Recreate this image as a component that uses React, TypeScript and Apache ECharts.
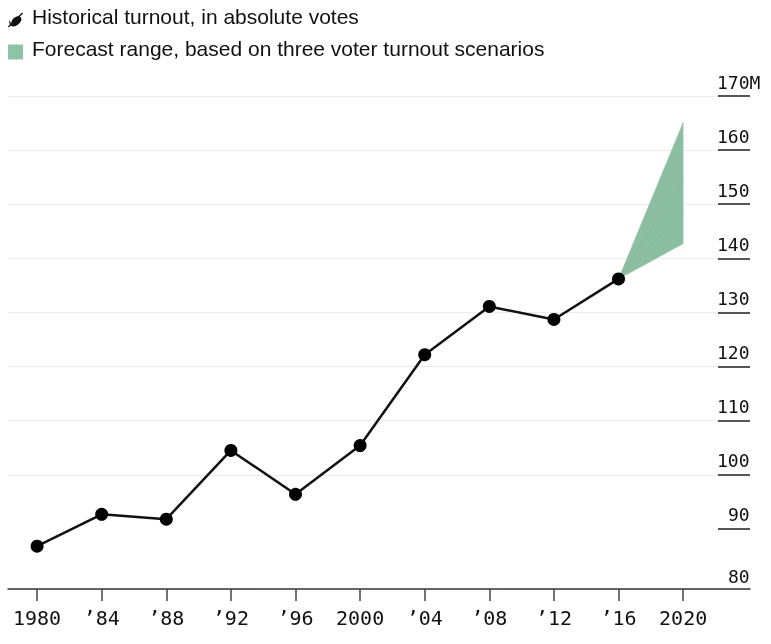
import React, { useEffect, useRef } from "react";
import * as echarts from "echarts";

const years = [1980, 1984, 1988, 1992, 1996, 2000, 2004, 2008, 2012, 2016];
const turnout = [86.8, 92.7, 91.8, 104.5, 96.4, 105.4, 122.2, 131.1, 128.7, 136.2];
const forecastYears = [2016, 2020];
// boundaries of the forecast fan at 2020 (low .. high)
const forecastBounds = [142.7, 148.6, 154.5, 165.1];
const xTickYears = [1980, 1984, 1988, 1992, 1996, 2000, 2004, 2008, 2012, 2016, 2020];
const yTicks = [80, 90, 100, 110, 120, 130, 140, 150, 160, 170];

const HIST_NAME = "Historical turnout, in absolute votes";
const FC_NAME = "Forecast range, based on three voter turnout scenarios";
const GREEN = "#8cbfa1";
const MONO = "DejaVu Sans Mono, monospace";
const SANS = "Liberation Sans, Arial, sans-serif";

export default function App() {
  const ref = useRef<HTMLDivElement>(null);
  useEffect(() => {
    if (!ref.current) return;
    const chart = echarts.init(ref.current, null, { renderer: "svg" });
    const start = turnout[turnout.length - 1];
    const bands = forecastBounds.slice(1).map((hi, i) => [forecastBounds[i], hi]);
    chart.setOption({
      animation: false,
      grid: { left: 8, right: 21, top: 96, bottom: 61, containLabel: false },
      legend: {
        orient: "vertical",
        left: 8,
        top: 6,
        padding: 0,
        itemWidth: 15,
        itemHeight: 15,
        itemGap: 4,
        selectedMode: false,
        formatter: (name: string) => "{t|" + name + "}",
        textStyle: {
          fontFamily: SANS,
          fontSize: 21,
          color: "#111",
          rich: {
            t: {
              fontFamily: SANS,
              fontSize: 21,
              lineHeight: 21,
              color: "#111",
              padding: [0, 0, 7, 4],
            },
          },
        },
        data: [
          {
            name: HIST_NAME,
            icon: "path://M0,9.4L9.4,0L10,0.6L0.6,10Z M2.17,7.83A4,2.8,-45,0,1,7.83,2.17A4,2.8,-45,0,1,2.17,7.83Z",
            itemStyle: { color: "#111" },
          },
          { name: FC_NAME, icon: "rect", itemStyle: { color: "#8fc3a5" } },
        ],
      },
      xAxis: {
        type: "value",
        min: 1978.2,
        max: 2024.14,
        offset: 6,
        axisLine: { show: true, lineStyle: { color: "#333", width: 1.5 } },
        axisTick: {
          show: true,
          length: 12,
          customValues: xTickYears,
          lineStyle: { color: "#444", width: 1.5 },
        },
        splitLine: { show: false },
        axisLabel: {
          customValues: xTickYears,
          margin: 19,
          fontFamily: MONO,
          fontSize: 20,
          color: "#111",
          formatter: (v: number) =>
            v % 20 === 0 ? String(v) : "\u2019" + String(v).slice(2),
        },
      },
      yAxis: {
        type: "value",
        position: "right",
        min: 80,
        max: 170,
        interval: 10,
        axisLine: { show: false },
        axisTick: {
          show: true,
          inside: true,
          length: 32,
          customValues: yTicks.slice(1),
          lineStyle: { color: "#555", width: 2 },
        },
        splitLine: {
          show: true,
          showMinLine: false,
          lineStyle: { color: "#ececec", width: 1 },
        },
        axisLabel: {
          inside: true,
          margin: 33,
          align: "left",
          verticalAlign: "bottom",
          padding: [0, 0, 5, 0],
          fontFamily: MONO,
          fontSize: 18,
          color: "#111",
          formatter: (v: number) =>
            v === 170
              ? "170M"
              : v === yTicks[0]
              ? "{b|" + v + "}"
              : v < 100
              ? "{p|" + v + "}"
              : String(v),
          rich: {
            p: { padding: [0, 0, 0, 11], fontFamily: MONO, fontSize: 18, color: "#111" },
            b: {
              padding: [0, 0, 0, 11],
              lineHeight: 4,
              fontFamily: MONO,
              fontSize: 18,
              color: "#111",
            },
          },
        },
      },
      series: [
        {
          name: FC_NAME,
          type: "custom",
          silent: true,
          z: 1,
          data: bands,
          renderItem: (params: any, api: any) => {
            const lo = api.value(0);
            const hi = api.value(1);
            const p0 = api.coord([forecastYears[0], start]);
            const pHi = api.coord([forecastYears[1], hi]);
            const pLo = api.coord([forecastYears[1], lo]);
            const children: any[] = [
              {
                type: "polygon",
                shape: { points: [p0, pHi, pLo] },
                style: { fill: GREEN, stroke: GREEN, lineWidth: 0.5 },
              },
            ];
            if (params.dataIndex > 0) {
              children.push({
                type: "line",
                shape: { x1: p0[0], y1: p0[1], x2: pLo[0], y2: pLo[1] },
                style: { stroke: "#78ab8d", lineWidth: 0.7, opacity: 0.7 },
              });
            }
            return { type: "group", children };
          },
        },
        {
          name: HIST_NAME,
          type: "line",
          data: years.map((y, i) => [y, turnout[i]]),
          symbol: "circle",
          symbolSize: 13,
          lineStyle: { color: "#111", width: 2.5 },
          itemStyle: { color: "#000" },
          z: 5,
        },
      ],
    });
    return () => chart.dispose();
  }, []);
  return (
    <div
      ref={ref}
      style={{ position: "fixed", left: 0, top: 0, width: 771, height: 644 }}
    />
  );
}
